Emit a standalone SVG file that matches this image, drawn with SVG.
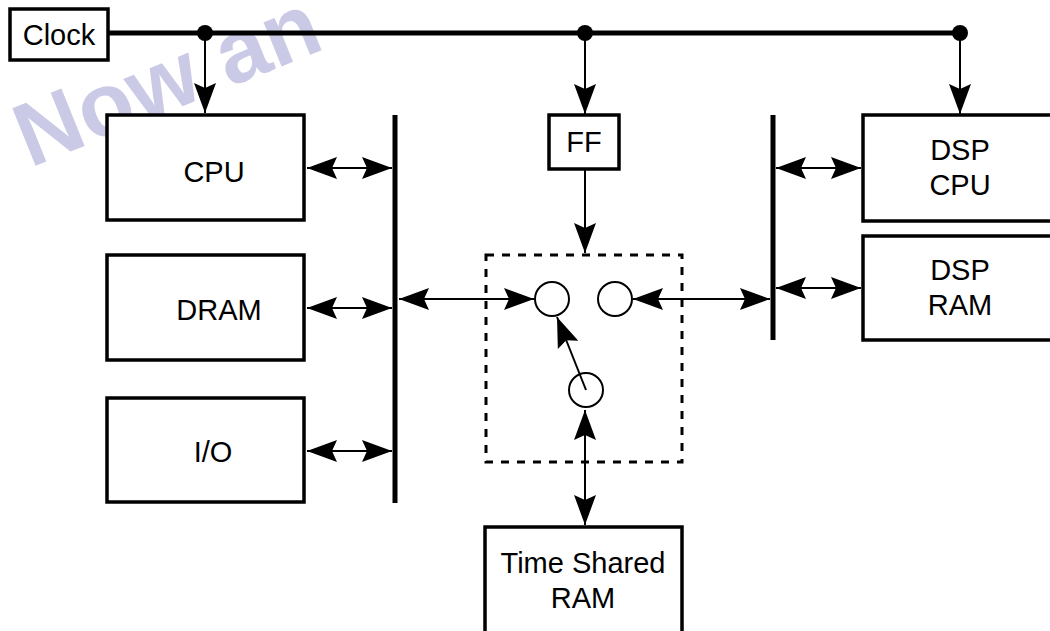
<svg xmlns="http://www.w3.org/2000/svg" width="1050" height="631" viewBox="0 0 1050 631">
<style>
.box{fill:#fff;stroke:#000;stroke-width:3.5}
.lbl{font-family:"Liberation Sans",Arial,sans-serif;font-size:29px;fill:#000;text-anchor:middle}
.bus{stroke:#000;stroke-width:5;fill:none}
.con{stroke:#000;stroke-width:2;fill:none}
.wm{font-family:"Liberation Sans",Arial,sans-serif;font-weight:bold;font-size:90px;fill:#cacae6}
</style>
<defs>
<marker id="ah" viewBox="-31 -12 32 24" refX="0" refY="0" markerWidth="32" markerHeight="24" markerUnits="userSpaceOnUse" orient="auto-start-reverse">
<path d="M0,0 L-30,-11 L-25,0 L-30,11 Z" fill="#000"/>
</marker>
</defs>
<rect width="1050" height="631" fill="#fff"/>
<text class="wm" x="30" y="168" transform="rotate(-22 30 168)">Now an</text>
<g id="connectors">
<line class="bus" x1="108" y1="33" x2="962" y2="33"/>
<circle cx="205" cy="33" r="8" fill="#000"/>
<circle cx="585" cy="33" r="8" fill="#000"/>
<circle cx="960" cy="33" r="8" fill="#000"/>
<line class="con" x1="205" y1="33" x2="205" y2="113" marker-end="url(#ah)"/>
<line class="con" x1="585" y1="33" x2="585" y2="114" marker-end="url(#ah)"/>
<line class="con" x1="960" y1="33" x2="960" y2="114" marker-end="url(#ah)"/>
<line class="bus" x1="395" y1="115" x2="395" y2="503"/>
<line class="bus" x1="773" y1="115" x2="773" y2="340"/>
<line class="con" x1="307" y1="168" x2="392" y2="168" marker-start="url(#ah)" marker-end="url(#ah)"/>
<line class="con" x1="307" y1="308" x2="392" y2="308" marker-start="url(#ah)" marker-end="url(#ah)"/>
<line class="con" x1="307" y1="451" x2="392" y2="451" marker-start="url(#ah)" marker-end="url(#ah)"/>
<line class="con" x1="399" y1="299" x2="534" y2="299" marker-start="url(#ah)" marker-end="url(#ah)"/>
<line class="con" x1="633" y1="299" x2="770" y2="299" marker-start="url(#ah)" marker-end="url(#ah)"/>
<line class="con" x1="776" y1="168" x2="861" y2="168" marker-start="url(#ah)" marker-end="url(#ah)"/>
<line class="con" x1="776" y1="288" x2="861" y2="288" marker-start="url(#ah)" marker-end="url(#ah)"/>
<line class="con" x1="585" y1="169" x2="585" y2="253" marker-end="url(#ah)"/>
<line class="con" x1="585" y1="410" x2="585" y2="525" marker-start="url(#ah)" marker-end="url(#ah)"/>
<line class="con" x1="586" y1="390" x2="557" y2="317" marker-end="url(#ah)"/>
</g>
<g id="clock"><rect class="box" x="10" y="9" width="98" height="51"/><text class="lbl" x="59" y="45">Clock</text></g>
<g id="cpu"><rect class="box" x="107" y="115" width="197" height="105"/><text class="lbl" x="214" y="182">CPU</text></g>
<g id="dram"><rect class="box" x="107" y="255" width="197" height="105"/><text class="lbl" x="219" y="320">DRAM</text></g>
<g id="io"><rect class="box" x="107" y="398" width="197" height="104"/><text class="lbl" x="213" y="462">I/O</text></g>
<g id="ff"><rect class="box" x="549" y="115" width="70" height="54"/><text class="lbl" x="584" y="152">FF</text></g>
<g id="switch">
<rect x="486" y="255" width="196" height="207" fill="none" stroke="#000" stroke-width="3" stroke-dasharray="8,8"/>
<circle cx="552" cy="299" r="17" fill="#fff" stroke="#000" stroke-width="2"/>
<circle cx="615" cy="299" r="17" fill="#fff" stroke="#000" stroke-width="2"/>
<circle cx="586" cy="390" r="17" fill="none" stroke="#000" stroke-width="2"/>
</g>
<g id="dspcpu"><rect class="box" x="863" y="115" width="200" height="106"/><text class="lbl" x="960" y="160">DSP</text><text class="lbl" x="960" y="195">CPU</text></g>
<g id="dspram"><rect class="box" x="863" y="236" width="200" height="104"/><text class="lbl" x="960" y="280">DSP</text><text class="lbl" x="960" y="315">RAM</text></g>
<g id="tsram"><rect class="box" x="485" y="527" width="197" height="120"/><text class="lbl" x="583" y="573">Time Shared</text><text class="lbl" x="583" y="608">RAM</text></g>
</svg>
